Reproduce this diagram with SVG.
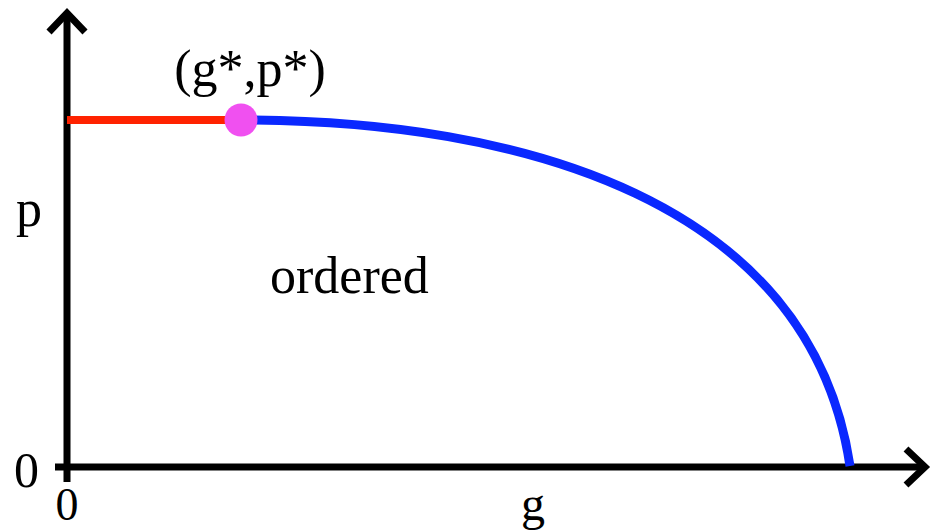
<svg xmlns="http://www.w3.org/2000/svg" width="932" height="532" viewBox="0 0 932 532">
<style>
.ax{stroke:#000;stroke-width:7;fill:none;stroke-linejoin:miter}
.t{font-family:"Liberation Serif","Times New Roman",serif;fill:#000}
</style>
<rect width="932" height="532" fill="#fff"/>
<g id="axes">
<line class="ax" x1="67" y1="482" x2="67" y2="14"/>
<line class="ax" x1="55" y1="467" x2="922" y2="467"/>
<polyline class="ax" points="49,32 67,13 85,32"/>
<polyline class="ax" points="906,449 925,467 906,485"/>
</g>
<g id="connectors">
<line x1="67" y1="120" x2="230" y2="120" stroke="#ff2200" stroke-width="8"/>
<path d="M241,120 C520,120 810,200 850,466" fill="none" stroke="#0a28ff" stroke-width="9"/>
</g>
<g id="critical-point">
<circle cx="241" cy="120" r="16.5" fill="#f050f0"/>
<text class="t" x="250" y="86" font-size="52" text-anchor="middle">(g*,p*)</text>
</g>
<g id="labels">
<text class="t" x="16" y="226" font-size="52">p</text>
<text class="t" x="270" y="293" font-size="52">ordered</text>
<text class="t" x="14" y="487" font-size="50">0</text>
<text class="t" x="67" y="520" font-size="46" text-anchor="middle">0</text>
<text class="t" x="533" y="520" font-size="48" text-anchor="middle">g</text>
</g>
</svg>
